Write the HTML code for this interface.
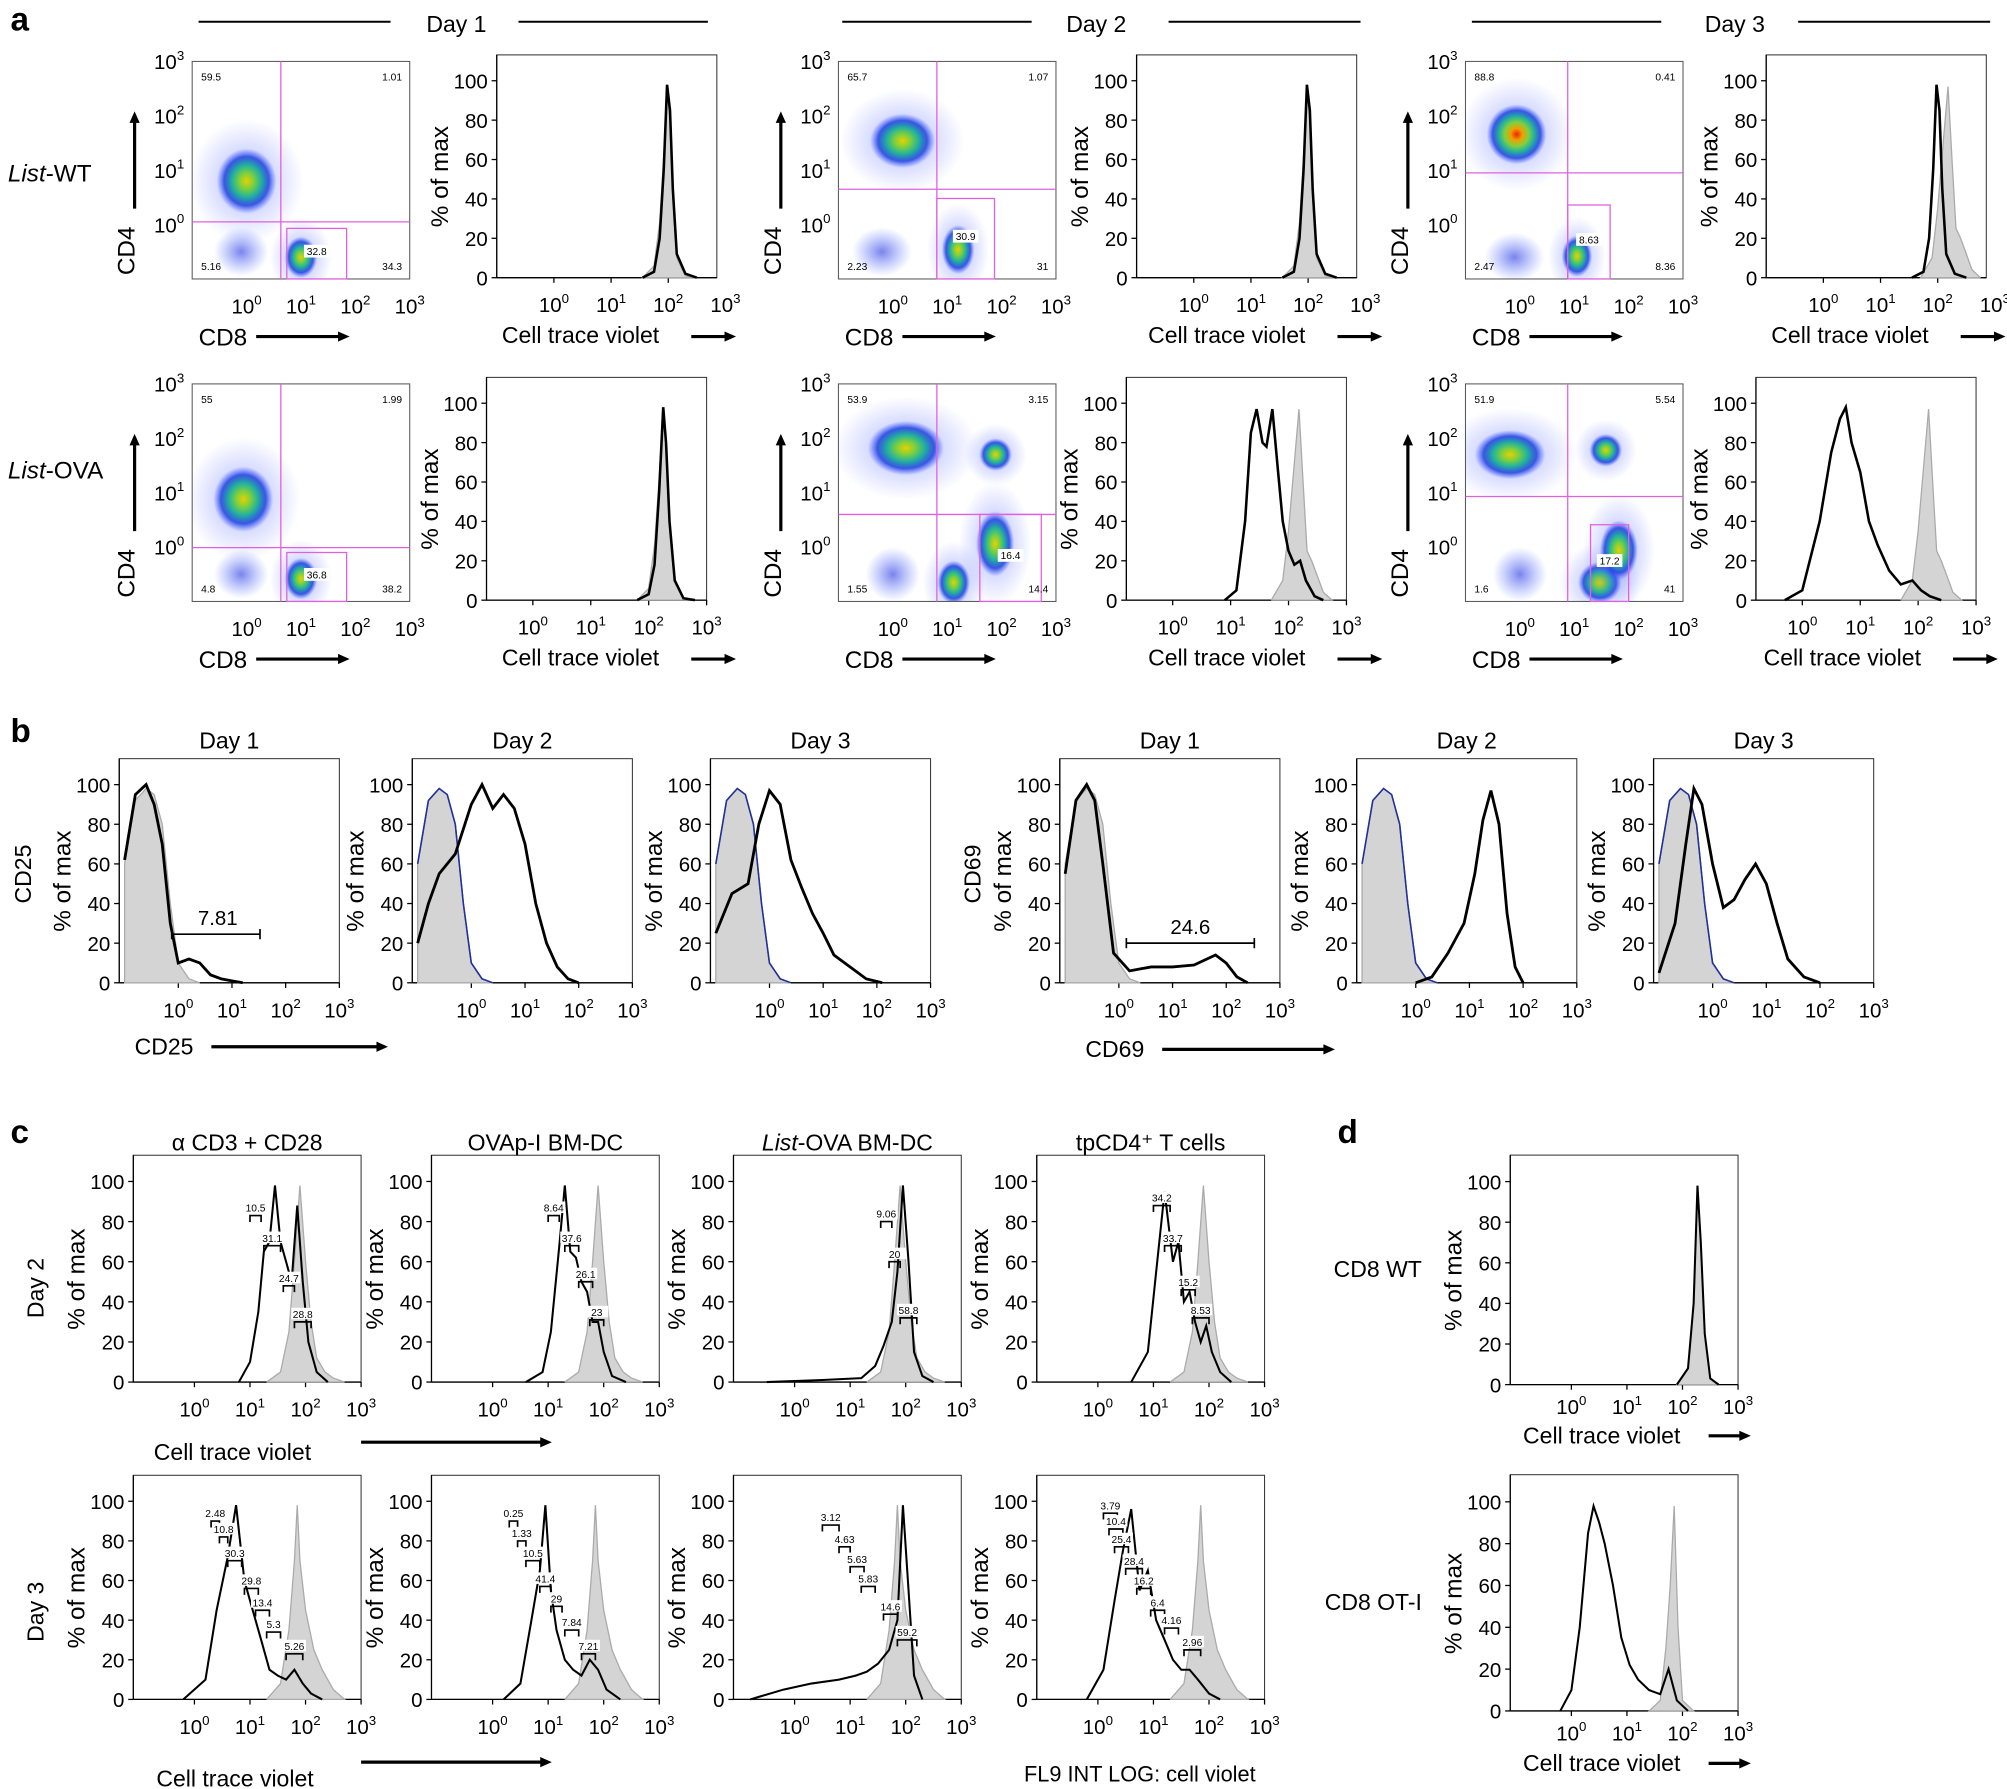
<!DOCTYPE html>
<html><head><meta charset="utf-8"><style>
html,body{margin:0;padding:0;background:#fff}
svg{display:block;font-family:"Liberation Sans",Arial,sans-serif}
</style></head><body>
<svg id="fig" width="2007" height="1789" viewBox="0 0 1568 1398" xmlns="http://www.w3.org/2000/svg">
<defs>
<radialGradient id="dens" cx="50%" cy="50%" r="50%">
<stop offset="0" stop-color="#e8d000"/><stop offset="0.25" stop-color="#7ad040"/><stop offset="0.5" stop-color="#20b0a0"/><stop offset="0.75" stop-color="#2040e0" stop-opacity="0.85"/><stop offset="1" stop-color="#4060ff" stop-opacity="0"/></radialGradient>
<radialGradient id="densR" cx="50%" cy="50%" r="50%">
<stop offset="0" stop-color="#f02000"/><stop offset="0.2" stop-color="#f0a000"/><stop offset="0.4" stop-color="#80d040"/><stop offset="0.6" stop-color="#20b0a0"/><stop offset="0.8" stop-color="#2040e0" stop-opacity="0.85"/><stop offset="1" stop-color="#4060ff" stop-opacity="0"/></radialGradient>
<radialGradient id="densB" cx="50%" cy="50%" r="50%">
<stop offset="0" stop-color="#2030e0" stop-opacity="0.6"/><stop offset="1" stop-color="#4060ff" stop-opacity="0"/></radialGradient>
<radialGradient id="halo" cx="50%" cy="50%" r="50%">
<stop offset="0" stop-color="#5060ff" stop-opacity="0.5"/><stop offset="0.6" stop-color="#6070ff" stop-opacity="0.2"/><stop offset="1" stop-color="#6070ff" stop-opacity="0"/></radialGradient>
</defs>
<g id="root"></g>
</svg>
<script>
// ---------- data ----------
const yTicks = [0,20,40,60,80,100];
const xTickExps = [0,1,2,3];
const peakD1X = [1.55,1.75,1.85,1.92,1.98,2.03,2.08,2.15,2.3,2.5];
const peakD1Y = [0,3,20,55,98,85,45,12,2,0];
const grayD1Y = [0,6,28,62,95,80,40,10,1,0];
const peakOvaD1X = [1.8,2.0,2.1,2.18,2.25,2.3,2.36,2.45,2.6,2.8];
const peakOvaD1Y = [0,3,18,55,98,80,40,10,1,0];
const bimodX = [0.9,1.1,1.25,1.35,1.45,1.55,1.62,1.72,1.82,1.9,2.0,2.1,2.2,2.3,2.45,2.6];
const bimodY = [0,5,40,85,97,80,78,97,65,40,25,18,20,10,2,0];
const ovaD3X = [-0.3,0,0.3,0.5,0.65,0.75,0.85,1.0,1.15,1.3,1.5,1.7,1.9,2.05,2.2,2.4];
const ovaD3Y = [0,5,40,75,92,98,80,65,40,28,15,8,10,5,2,0];
const grayOvaX = [1.7,1.9,2.0,2.1,2.18,2.25,2.32,2.4,2.5,2.6,2.75];
const grayOvaY = [0,10,35,70,97,60,25,20,12,4,0];
// panel b
const bGrayX = [-1.0,-0.8,-0.6,-0.45,-0.3,-0.15,0,0.2,0.4];
const bGrayY = [60,92,98,95,80,40,10,2,0];
const cd25D1X = [-1.0,-0.8,-0.6,-0.45,-0.3,-0.15,0,0.2,0.4,0.6,0.8,1.0,1.2];
const cd25D1Y = [62,95,100,90,70,30,10,12,10,4,2,1,0];
const cd25D2X = [-1.0,-0.8,-0.6,-0.3,0,0.2,0.4,0.6,0.8,1.0,1.2,1.4,1.6,1.8,2.0];
const cd25D2Y = [20,40,55,65,90,100,88,95,88,70,40,20,8,2,0];
const cd25D3X = [-1.0,-0.7,-0.4,-0.2,0,0.2,0.4,0.6,0.8,1.0,1.2,1.4,1.6,1.8,2.1];
const cd25D3Y = [25,45,50,80,97,90,62,48,35,25,14,10,6,2,0];
const cd69D1X = [-1.0,-0.8,-0.6,-0.45,-0.3,-0.1,0.2,0.6,1.0,1.4,1.8,2.0,2.2,2.4];
const cd69D1Y = [55,92,100,92,60,15,6,8,8,9,14,10,3,0];
const cd69D2X = [0.0,0.3,0.6,0.9,1.1,1.25,1.4,1.55,1.7,1.85,2.0];
const cd69D2Y = [0,3,15,30,55,82,97,80,35,8,0];
const cd69D3X = [-1.0,-0.7,-0.5,-0.35,-0.2,0,0.2,0.4,0.6,0.8,1.0,1.2,1.4,1.7,2.0];
const cd69D3Y = [5,30,70,98,90,60,38,42,52,60,50,30,12,3,0];
// panel c
const cGrayX = [1.3,1.55,1.7,1.8,1.9,2.0,2.1,2.2,2.35,2.5,2.7];
const cGrayY = [0,5,25,60,98,60,30,12,5,2,0];
const cD2aX = [0.8,1.0,1.15,1.25,1.35,1.45,1.55,1.65,1.75,1.85,1.95,2.05,2.2,2.4];
const cD2aY = [0,10,35,65,70,98,70,60,50,88,50,20,5,0];
const cD2bX = [0.6,0.9,1.05,1.2,1.3,1.4,1.5,1.6,1.7,1.8,1.9,2.0,2.15,2.4];
const cD2bY = [0,5,25,68,98,65,62,50,45,30,30,15,3,0];
const cD2cX = [-0.5,0.5,1.2,1.45,1.6,1.75,1.85,1.95,2.05,2.15,2.3,2.5];
const cD2cY = [0,1,2,8,18,30,55,98,60,15,3,0];
const cD2dX = [0.6,0.9,1.05,1.2,1.35,1.45,1.55,1.65,1.75,1.85,1.95,2.05,2.2,2.4];
const cD2dY = [0,15,55,95,60,70,40,45,30,20,28,15,5,0];
const cD3aX = [-0.2,0.2,0.4,0.6,0.75,0.9,1.05,1.2,1.35,1.5,1.65,1.8,1.95,2.1,2.3];
const cD3aY = [0,10,45,72,98,60,45,30,15,12,10,15,8,3,0];
const cD3bX = [0.2,0.5,0.7,0.85,0.95,1.05,1.15,1.3,1.45,1.6,1.75,1.9,2.05,2.3];
const cD3bY = [0,8,40,65,98,55,35,20,15,12,20,15,5,0];
const cD3cX = [-0.8,-0.2,0.3,0.8,1.1,1.3,1.5,1.7,1.85,1.95,2.05,2.15,2.3];
const cD3cY = [0,5,8,10,12,14,18,25,40,98,55,12,0];
const cD3dX = [-0.2,0.1,0.3,0.45,0.6,0.75,0.9,1.05,1.2,1.35,1.5,1.65,1.8,2.0,2.2];
const cD3dY = [0,15,50,75,96,55,65,40,30,20,15,15,10,3,0];
const cGrayD3X = [1.3,1.55,1.7,1.8,1.85,1.9,2.0,2.15,2.3,2.5,2.7];
const cGrayD3Y = [0,8,35,70,98,70,45,25,15,5,0];
// panel c division gates: [log lo, log hi, % level, label]
const gatesD2a = [[1.0,1.2,83,'10.5'],[1.25,1.55,68,'31.1'],[1.6,1.8,48,'24.7'],[1.8,2.1,30,'28.8']];
const gatesD2b = [[1.0,1.2,83,'8.64'],[1.3,1.55,68,'37.6'],[1.55,1.8,50,'26.1'],[1.75,2.0,31,'23']];
const gatesD2c = [[1.55,1.75,80,'9.06'],[1.7,1.9,60,'20'],[1.9,2.2,32,'58.8']];
const gatesD2d = [[1.0,1.3,88,'34.2'],[1.2,1.5,68,'33.7'],[1.5,1.75,46,'15.2'],[1.7,2.0,32,'8.53']];
const gatesD3a = [[0.3,0.45,90,'2.48'],[0.45,0.6,82,'10.8'],[0.6,0.85,70,'30.3'],[0.9,1.15,56,'29.8'],[1.1,1.35,45,'13.4'],[1.3,1.55,34,'5.3'],[1.65,1.95,23,'5.26']];
const gatesD3b = [[0.3,0.45,90,'0.25'],[0.45,0.6,80,'1.33'],[0.6,0.85,70,'10.5'],[0.85,1.05,57,'41.4'],[1.05,1.25,47,'29'],[1.3,1.55,35,'7.84'],[1.6,1.85,23,'7.21']];
const gatesD3c = [[0.5,0.8,88,'3.12'],[0.8,1.0,77,'4.63'],[1.0,1.25,67,'5.63'],[1.2,1.45,57,'5.83'],[1.6,1.85,43,'14.6'],[1.85,2.2,30,'59.2']];
const gatesD3d = [[0.1,0.35,94,'3.79'],[0.2,0.45,86,'10.4'],[0.3,0.55,77,'25.4'],[0.5,0.8,66,'28.4'],[0.7,0.95,56,'16.2'],[0.95,1.2,45,'6.4'],[1.2,1.45,36,'4.16'],[1.55,1.85,25,'2.96']];
// panel d
const dPeakX = [1.9,2.1,2.2,2.27,2.33,2.4,2.5,2.65];
const dPeakY = [0,8,40,98,70,25,3,0];
const dOtX = [-0.2,0.0,0.15,0.3,0.4,0.5,0.6,0.75,0.9,1.05,1.2,1.4,1.6,1.75,1.9,2.1];
const dOtY = [0,10,40,85,98,90,80,60,35,22,15,10,8,20,5,0];
const dGrayX = [1.4,1.6,1.7,1.78,1.85,1.92,2.0,2.2];
const dGrayY = [0,5,30,60,98,40,5,0];
// dot plot populations: [log x, log y, rx(dec), ry(dec), style 0=normal 1=hot 2=sparse]
const popsWT1 = [[0.0,0.8,0.55,0.6,0],[1.0,-0.6,0.3,0.38,0],[-0.1,-0.5,0.5,0.45,2]];
const popsWT2 = [[0.18,1.54,0.6,0.5,0],[1.2,-0.46,0.3,0.45,0],[-0.2,-0.5,0.55,0.45,2]];
const popsWT3 = [[-0.06,1.66,0.55,0.55,1],[1.05,-0.58,0.28,0.38,0],[-0.1,-0.6,0.55,0.45,2]];
const popsOVA1 = [[-0.06,0.88,0.55,0.6,0],[1.0,-0.58,0.3,0.38,0],[-0.1,-0.5,0.5,0.45,2]];
const popsOVA2 = [[0.24,1.82,0.7,0.5,0],[1.89,1.7,0.3,0.3,0],[1.12,-0.65,0.3,0.4,0],[1.88,0.06,0.35,0.6,0],[0.0,-0.5,0.5,0.5,2]];
const popsOVA3 = [[-0.18,1.7,0.65,0.45,0],[1.58,1.78,0.3,0.3,0],[1.47,-0.65,0.4,0.38,0],[1.82,-0.06,0.35,0.55,0],[0.0,-0.5,0.5,0.5,2]];
</script>
<script>
const NS="http://www.w3.org/2000/svg";
const root=document.getElementById('root');
function mk(tag,attrs,parent){const e=document.createElementNS(NS,tag);for(const k in attrs)e.setAttribute(k,attrs[k]);(parent||root).appendChild(e);return e;}
function txt(x,y,s,size,opts,parent){opts=opts||{};const t=mk('text',{x:x,y:y,'font-size':size,'text-anchor':opts.anchor||'start',fill:'#000'},parent);
 if(opts.italic)t.setAttribute('font-style','italic');if(opts.bold)t.setAttribute('font-weight','bold');
 if(opts.rot){t.setAttribute('transform','rotate(-90 '+x+' '+y+')');}
 t.textContent=s;return t;}
function pow(x,y,e,size,parent){const t=mk('text',{x:x,y:y,'font-size':size,'text-anchor':'middle'},parent);
 
 t.appendChild(document.createTextNode('10'));const s=mk('tspan',{dy:-size*0.45,'font-size':size*0.65},t);s.textContent=String(e);return t;}
function arrow(x1,y1,x2,y2,parent){const g=mk('g',{},parent);
 mk('line',{x1:x1,y1:y1,x2:x2,y2:y2,stroke:'#000','stroke-width':2.5},g);
 const dx=x2-x1,dy=y2-y1,L=Math.hypot(dx,dy),ux=dx/L,uy=dy/L;
 mk('polygon',{points:`${x2+ux*3},${y2+uy*3} ${x2-ux*6-uy*4},${y2-uy*6+ux*4} ${x2-ux*6+uy*4},${y2-uy*6-ux*4}`,fill:'#000'},g);}

function hist(name,x0,x1,y0,y1,dom,curves,opt){
 opt=opt||{};
 const g=mk('g',{});
 const sx=v=>x0+(v-dom[0])/(dom[1]-dom[0])*(x1-x0);
 const sy=v=>y1-v/100*(y1-y0)*0.95;
 const r=mk('rect',{x:x0,y:y0-(y1-y0)*0.05-4,width:x1-x0,height:y1-y0+(y1-y0)*0.05+4,fill:'none',stroke:'#333','stroke-width':0.8},g);
 mk('line',{x1:x0,y1:y1,x2:x1,y2:y1,stroke:'#000','stroke-width':1},g);
 mk('line',{x1:x0,y1:y0-(y1-y0)*0.05-4,x2:x0,y2:y1,stroke:'#000','stroke-width':1},g);
 yTicks.forEach(v=>{mk('line',{x1:x0-4,y1:sy(v),x2:x0,y2:sy(v),stroke:'#000'},g);txt(x0-7,sy(v)+6,String(v),16,{anchor:'end',name:'y-tick-label'},g);});
 const toff=opt.toff||27;
 xTickExps.forEach(e=>{if(e<dom[0]-0.01||e>dom[1]+0.3)return;const X=sx(e);if(e<=dom[1])mk('line',{x1:X,y1:y1,x2:X,y2:y1+4,stroke:'#000'},g);pow(X,y1+toff,e,16,g);});
 txt(x0-38,(y0+y1)/2+2,'% of max',19,{anchor:'middle',rot:true,name:'y-axis-title'},g);
 curves.forEach(c=>{
  let d='';c.x.forEach((v,i)=>{d+=(i?'L':'M')+sx(v).toFixed(1)+','+sy(c.y[i]).toFixed(1);});
  if(c.fill){const p=mk('path',{d:d+'L'+sx(c.x[c.x.length-1])+','+y1+'L'+sx(c.x[0])+','+y1+'Z',fill:'#d4d4d4',stroke:'#aaa','stroke-width':1},g);}
  else{const p=mk('path',{d:d,fill:'none',stroke:c.color||'#000','stroke-width':c.w||2},g);}
 });
 (opt.gates||[]).forEach(gt=>{const a=sx(gt[0]),b=sx(gt[1]),y=sy(gt[2]);
  const gg=mk('g',{},g);
  mk('path',{d:`M${a},${y+5}V${y}H${b}V${y+5}`,stroke:'#000',fill:'none','stroke-width':1.3},gg);
  mk('rect',{x:(a+b)/2-9,y:y-11,width:18,height:9,fill:'#fff'},gg);
  txt((a+b)/2,y-3,gt[3],8,{anchor:'middle',name:'gate-value'},gg);});
 return {g,sx,sy};
}
function dot(name,x0,x1,y0,y1,pops,q,gate,nums){
 const g=mk('g',{});
 const dom=[-1,3],sx=v=>x0+(v-dom[0])/(dom[1]-dom[0])*(x1-x0),sy=v=>y1-(v-dom[0])/(dom[1]-dom[0])*(y1-y0);
 const dpx=(x1-x0)/(dom[1]-dom[0]);
 const cp=mk('clipPath',{id:'c'+name},g);mk('rect',{x:x0,y:y0,width:x1-x0,height:y1-y0},cp);
 const inner=mk('g',{'clip-path':'url(#c'+name+')'},g);
 pops.forEach(p=>{
  if(p[4]===2){const e2=mk('ellipse',{cx:sx(p[0]),cy:sy(p[1]),rx:p[2]*dpx,ry:p[3]*dpx,fill:'url(#densB)'},inner);return;}
  const e1=mk('ellipse',{cx:sx(p[0]),cy:sy(p[1]),rx:p[2]*dpx*1.9,ry:p[3]*dpx*1.9,fill:'url(#halo)'},inner);
  const e=mk('ellipse',{cx:sx(p[0]),cy:sy(p[1]),rx:p[2]*dpx,ry:p[3]*dpx,fill:p[4]?'url(#densR)':'url(#dens)'},inner);});
 mk('rect',{x:x0,y:y0,width:x1-x0,height:y1-y0,fill:'none',stroke:'#555','stroke-width':0.8},g);
 mk('line',{x1:sx(q[0]),y1:y0,x2:sx(q[0]),y2:y1,stroke:'#e060e0','stroke-width':1},g);
 mk('line',{x1:x0,y1:sy(q[1]),x2:x1,y2:sy(q[1]),stroke:'#e060e0','stroke-width':1},g);
 const gr=mk('rect',{x:sx(gate[0]),y:sy(gate[3]),width:sx(gate[1])-sx(gate[0]),height:sy(gate[2])-sy(gate[3]),fill:'none',stroke:'#e060e0','stroke-width':1},g);
 txt(x0+7,y0+15,nums[0],8,{name:'quadrant-value'},g);txt(x1-6,y0+15,nums[1],8,{anchor:'end',name:'quadrant-value'},g);
 txt(x0+7,y1-7,nums[2],8,{name:'quadrant-value'},g);txt(x1-6,y1-7,nums[3],8,{anchor:'end',name:'quadrant-value'},g);
 const gx=(sx(gate[0])+sx(gate[1]))/2;mk('rect',{x:gx-10,y:(sy(gate[2])+sy(gate[3]))/2-7,width:20,height:10,fill:'#fff'},g);
 txt(gx,(sy(gate[2])+sy(gate[3]))/2+1,nums[4],8,{anchor:'middle',name:'gate-value'},g);
 [0,1,2,3].forEach(e=>{pow(sx(e),y1+27,e,16,g);pow(x0-18,sy(e)+6,e,16,g);});
 txt(x0-45,y1-3,'CD4',19,{rot:true,name:'y-axis-title'},g);
 arrow(x0-45,y1-55,x0-45,y0+42,g);
 txt(x0+5,y1+52,'CD8',19,{name:'x-axis-title'},g);arrow(x0+50,y1+45,x0+120,y1+45,g);
}
// headers
txt(8,24,'a',26,{bold:true,name:'panel-letter-a'});txt(8,580,'b',26,{bold:true,name:'panel-letter-b'});
txt(8,893,'c',26,{bold:true,name:'panel-letter-c'});txt(1045,893,'d',26,{bold:true,name:'panel-letter-d'});
[[155,305,333,'Day 1',405,553],[658,806,833,'Day 2',913,1063],[1150,1298,1332,'Day 3',1405,1555]].forEach(h=>{
 mk('line',{x1:h[0],y1:17,x2:h[1],y2:17,stroke:'#000','stroke-width':1.5});mk('line',{x1:h[4],y1:17,x2:h[5],y2:17,stroke:'#000','stroke-width':1.5});
 txt(h[2],25,h[3],18,{name:'day-header'});});
const l1=txt(6,142,'',19,{name:'row-label-list-wt'});l1.innerHTML='<tspan font-style="italic">List</tspan>-WT';
const l2=txt(6,374,'',19,{name:'row-label-list-ova'});l2.innerHTML='<tspan font-style="italic">List</tspan>-OVA';
// panel a
dot('dotplot-wt-day1',150,320,48,218,popsWT1,[0.63,0.05],[0.74,1.84,-1,-0.07],['59.5','1.01','5.16','34.3','32.8']);
dot('dotplot-wt-day2',655,825,48,218,popsWT2,[0.81,0.65],[0.81,1.87,-1,0.48],['65.7','1.07','2.23','31','30.9']);
dot('dotplot-wt-day3',1145,1315,48,218,popsWT3,[0.88,0.95],[0.88,1.66,-1,0.36],['88.8','0.41','2.47','8.36','8.63']);
dot('dotplot-ova-day1',150,320,300,470,popsOVA1,[0.63,-0.01],[0.74,1.84,-1,-0.1],['55','1.99','4.8','38.2','36.8']);
dot('dotplot-ova-day2',655,825,300,470,popsOVA2,[0.81,0.6],[1.6,2.73,-1,0.6],['53.9','3.15','1.55','14.4','16.4']);
dot('dotplot-ova-day3',1145,1315,300,470,popsOVA3,[0.88,0.93],[1.3,2.0,-1,0.41],['51.9','5.54','1.6','41','17.2']);
const ctv=(x,y)=>{txt(x,y,'Cell trace violet',18,{name:'x-axis-title'});arrow(x+148,y-5,x+180,y-5);};
hist('hist-wt-day1',388,560,55,217,[-1,2.85],[{x:peakD1X,y:grayD1Y,fill:true},{x:peakD1X,y:peakD1Y}]);ctv(392,268);
hist('hist-wt-day2',888,1060,55,217,[-1,2.85],[{x:peakD1X,y:grayD1Y,fill:true},{x:peakD1X,y:peakD1Y}]);ctv(897,268);
hist('hist-wt-day3',1380,1552,55,217,[-1,2.85],[{x:grayOvaX,y:grayOvaY,fill:true},{x:peakD1X,y:peakD1Y}]);ctv(1384,268);
hist('hist-ova-day1',380,552,307,469,[-0.8,3],[{x:peakOvaD1X,y:grayD1Y,fill:true},{x:peakOvaD1X,y:peakOvaD1Y}]);ctv(392,520);
hist('hist-ova-day2',880,1052,307,469,[-0.8,3],[{x:grayOvaX,y:grayOvaY,fill:true},{x:bimodX,y:bimodY}]);ctv(897,520);
hist('hist-ova-day3',1372,1544,307,469,[-0.8,3],[{x:grayOvaX,y:grayOvaY,fill:true},{x:ovaD3X,y:ovaD3Y}]);ctv(1378,520);
// panel b
const bb=[[93,265,'Day 1',cd25D1X,cd25D1Y],[322,494,'Day 2',cd25D2X,cd25D2Y],[555,727,'Day 3',cd25D3X,cd25D3Y],
 [828,1000,'Day 1',cd69D1X,cd69D1Y],[1060,1232,'Day 2',cd69D2X,cd69D2Y],[1292,1464,'Day 3',cd69D3X,cd69D3Y]];
bb.forEach((b,i)=>{const cs=[{x:bGrayX,y:bGrayY,fill:true}];
 if(i%3)cs.push({x:bGrayX,y:bGrayY,color:'#888',w:1.2},{x:bGrayX,y:bGrayY,color:'#2030a0',w:1.2});
 cs.push({x:b[3],y:b[4],w:2.2});
 hist('hist-'+(i<3?'cd25':'cd69')+'-day'+(i%3+1),b[0],b[1],605,768,[-1.1,3],cs);
 txt((b[0]+b[1])/2,585,b[2],18,{anchor:'middle',name:'day-header'});});
txt(24,706,'CD25',18,{rot:true,name:'y-axis-title'});txt(766,706,'CD69',18,{rot:true,name:'y-axis-title'});
txt(105,824,'CD25',18,{name:'x-axis-title'});arrow(165,818,300,818);
txt(848,826,'CD69',18,{name:'x-axis-title'});arrow(908,820,1040,820);
mk('path',{d:'M134,734 v-8 M134,730 H203 M203,726 v8',stroke:'#000',fill:'none','stroke-width':1.3});txt(170,723,'7.81',16,{anchor:'middle',name:'gate-value'});
mk('path',{d:'M880,741 v-8 M880,737 H980 M980,733 v8',stroke:'#000',fill:'none','stroke-width':1.3});txt(930,730,'24.6',16,{anchor:'middle',name:'gate-value'});
// panel c
const cc=[[104,282,'α CD3 + CD28'],[337,515,'OVAp-I BM-DC'],[573,751,'List-OVA BM-DC'],[810,988,'tpCD4⁺ T cells']];
const cRow1=[[cD2aX,cD2aY,gatesD2a],[cD2bX,cD2bY,gatesD2b],[cD2cX,cD2cY,gatesD2c],[cD2dX,cD2dY,gatesD2d]];
const cRow2=[[cD3aX,cD3aY,gatesD3a],[cD3bX,cD3bY,gatesD3b],[cD3cX,cD3cY,gatesD3c],[cD3dX,cD3dY,gatesD3d]];
cc.forEach((c,i)=>{
 hist('hist-c-day2-'+i,c[0],c[1],915,1080,[-1.1,3],[{x:cGrayX,y:cGrayY,fill:true},{x:cRow1[i][0],y:cRow1[i][1],w:1.6}],{gates:cRow1[i][2],toff:27});
 hist('hist-c-day3-'+i,c[0],c[1],1165,1328,[-1.1,3],[{x:cGrayD3X,y:cGrayD3Y,fill:true},{x:cRow2[i][0],y:cRow2[i][1],w:1.6}],{gates:cRow2[i][2],toff:27});
 const t=txt((c[0]+c[1])/2,899,c[2],18,{anchor:'middle',name:'condition-header'});
 if(i==2)t.innerHTML='<tspan font-style="italic">List</tspan>-OVA BM-DC';});
txt(34,1030,'Day 2',18,{rot:true,name:'row-label-day2'});txt(34,1283,'Day 3',18,{rot:true,name:'row-label-day3'});
txt(120,1141,'Cell trace violet',18,{name:'x-axis-title'});arrow(282,1127,428,1127);
txt(122,1396,'Cell trace violet',18,{name:'x-axis-title'});arrow(282,1377,428,1377);
txt(800,1392,'FL9 INT LOG: cell violet',17,{name:'x-axis-title'});
// panel d
hist('hist-d-cd8wt',1180,1358,915,1082,[-1.1,3],[{x:dPeakX,y:dPeakY,fill:true},{x:dPeakX,y:dPeakY,w:1.6}],{toff:23});
hist('hist-d-cd8ot1',1180,1358,1165,1337,[-1.1,3],[{x:dGrayX,y:dGrayY,fill:true},{x:dOtX,y:dOtY,w:1.6}],{toff:23});
txt(1042,998,'CD8 WT',18,{name:'row-label-cd8-wt'});txt(1035,1258,'CD8 OT-I',18,{name:'row-label-cd8-ot1'});
txt(1190,1128,'Cell trace violet',18,{name:'x-axis-title'});arrow(1335,1122,1365,1122);
txt(1190,1384,'Cell trace violet',18,{name:'x-axis-title'});arrow(1335,1378,1365,1378);
</script>
</body></html>
